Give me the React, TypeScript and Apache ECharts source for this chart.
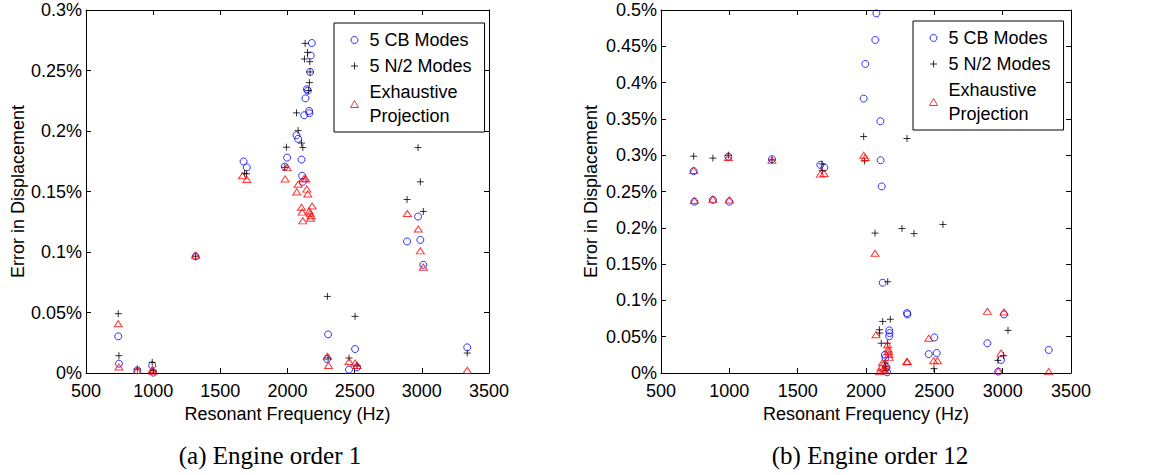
import React, { useEffect, useRef } from "react";
import * as echarts from "echarts";

// ---------- data (frequency Hz, error %) ----------
const seriesNames = ["5 CB Modes", "5 N/2 Modes", "Exhaustive\nProjection"];
const freqTicks = { min: 500, max: 3500, interval: 500 };
const errTicksEO1 = { min: 0, max: 0.3, interval: 0.05 };
const errTicksEO12 = { min: 0, max: 0.5, interval: 0.05 };
const captions = ["(a) Engine order 1", "(b) Engine order 12"];

const eo1Cb: [number, number][] = [
  [740, 0.0303], [745, 0.0077], [882, 0.0022], [993, 0.0063], [1000, 0.0003],
  [1316, 0.0963], [1673, 0.1748], [1697, 0.170], [1980, 0.1706], [1997, 0.178],
  [2067, 0.1965], [2079, 0.1935], [2104, 0.1764], [2109, 0.163], [2114, 0.158],
  [2124, 0.213], [2134, 0.227], [2144, 0.2345], [2151, 0.2334], [2161, 0.2166],
  [2163, 0.2147], [2168, 0.2488], [2173, 0.2623], [2181, 0.2727], [2295, 0.0116],
  [2302, 0.0319], [2458, 0.0028], [2503, 0.0198], [2518, 0.0047], [2890, 0.1087],
  [2972, 0.1293], [2989, 0.110], [3011, 0.0894], [3338, 0.0212],
];
const eo1N2: [number, number][] = [
  [740, 0.049], [745, 0.0143], [882, 0.0033], [993, 0.0088], [1000, 0.0022],
  [1316, 0.0965], [1680, 0.165], [1695, 0.1646], [1980, 0.170], [1992, 0.1866],
  [2067, 0.215], [2079, 0.2003], [2104, 0.190], [2114, 0.1863], [2126, 0.2595],
  [2131, 0.2724], [2149, 0.265], [2156, 0.2334], [2163, 0.240], [2166, 0.2573],
  [2168, 0.2488], [2297, 0.0633], [2302, 0.0124], [2458, 0.0124], [2503, 0.0468],
  [2518, 0.006], [2890, 0.1434], [2972, 0.1863], [2989, 0.158], [3011, 0.1335],
  [3338, 0.0165],
];
const eo1Ex: [number, number][] = [
  [740, 0.0407], [745, 0.005], [882, 0.0022], [993, 0.0028], [1000, 0.0014],
  [1316, 0.0974], [1665, 0.163], [1697, 0.160], [1982, 0.1604], [1997, 0.1698],
  [2069, 0.1497], [2079, 0.156], [2104, 0.137], [2109, 0.133], [2114, 0.1258],
  [2124, 0.1607], [2136, 0.1604], [2144, 0.152], [2151, 0.148], [2161, 0.134],
  [2168, 0.132], [2176, 0.130], [2171, 0.128], [2183, 0.138], [2297, 0.0138],
  [2305, 0.0063], [2458, 0.0096], [2503, 0.0083], [2518, 0.0063], [2892, 0.1318],
  [2974, 0.119], [2989, 0.101], [3011, 0.0875], [3338, 0.0022],
];

const eo12Cb: [number, number][] = [
  [739, 0.278], [744, 0.236], [880, 0.2385], [993, 0.298], [1000, 0.236],
  [1312, 0.2945], [1666, 0.2867], [1695, 0.283], [1983, 0.378], [1995, 0.4257],
  [2068, 0.4587], [2076, 0.4954], [2105, 0.3468], [2107, 0.293], [2115, 0.257],
  [2122, 0.1243], [2170, 0.0587], [2172, 0.055], [2170, 0.0505], [2138, 0.025],
  [2142, 0.021], [2150, 0.008], [2155, 0.001], [2300, 0.0826], [2303, 0.0807],
  [2459, 0.026], [2500, 0.049], [2517, 0.0275], [2888, 0.041], [2968, 0.002],
  [2988, 0.018], [3010, 0.0807], [3337, 0.0317],
];
const eo12N2: [number, number][] = [
  [739, 0.2986], [880, 0.296], [993, 0.300], [1312, 0.2935], [1678, 0.288],
  [1680, 0.279], [1983, 0.3257], [1990, 0.292], [2300, 0.323], [2066, 0.1927],
  [2263, 0.199], [2351, 0.192], [2563, 0.2046], [2159, 0.1257], [2122, 0.071],
  [2178, 0.074], [2098, 0.0596], [2100, 0.055], [2112, 0.041], [2156, 0.041],
  [2140, 0.014], [2142, 0.009], [2147, 0.004], [2497, 0.006], [2966, 0.0174],
  [3007, 0.024], [3039, 0.0587],
];
const eo12Ex: [number, number][] = [
  [739, 0.279], [744, 0.2376], [880, 0.2395], [993, 0.2968], [1000, 0.2385],
  [1312, 0.293], [1666, 0.274], [1693, 0.275], [1983, 0.300], [1995, 0.2968],
  [2066, 0.165], [2073, 0.0528], [2158, 0.039], [2162, 0.033], [2165, 0.030],
  [2170, 0.0216], [2168, 0.026], [2120, 0.014], [2112, 0.008], [2100, 0.002],
  [2130, 0.0055], [2140, 0.003], [2145, 0.011], [2298, 0.016], [2303, 0.0155],
  [2459, 0.048], [2495, 0.017], [2522, 0.017], [2888, 0.085], [3010, 0.084],
  [2988, 0.0275], [2968, 0.003], [3337, 0.002],
];

// ---------- styling ----------
const FONT = "'Liberation Sans', Arial, Helvetica, sans-serif";
const SERIF = "'Liberation Serif', 'Times New Roman', serif";
const PLUS = "path://M0,5L10,5M5,0L5,10";
const TRI = "path://M4,0L8,7L0,7Z";

function pctLabel(v: number) {
  return `${+v.toFixed(2)}%`;
}

function xAxes(gridIndex: number) {
  const common = {
    type: "value" as const,
    gridIndex,
    min: freqTicks.min,
    max: freqTicks.max,
    interval: freqTicks.interval,
    axisLine: { show: true, onZero: false, lineStyle: { color: "#000", width: 1 } },
    axisTick: { show: true, inside: true, length: 5, lineStyle: { color: "#000" } },
    splitLine: { show: false },
  };
  return [
    {
      ...common,
      position: "bottom",
      axisLabel: {
        color: "#000",
        fontSize: 18,
        fontFamily: FONT,
        margin: 9,
        formatter: (v: number) => String(v),
      },
      name: "Resonant Frequency (Hz)",
      nameLocation: "middle",
      nameGap: 28,
      nameTextStyle: { color: "#000", fontSize: 18, fontFamily: FONT },
    },
    { ...common, position: "top", axisLabel: { show: false } },
  ];
}

function yAxes(gridIndex: number, t: { min: number; max: number; interval: number }, gap: number) {
  const common = {
    type: "value" as const,
    gridIndex,
    min: t.min,
    max: t.max,
    interval: t.interval,
    axisLine: { show: true, onZero: false, lineStyle: { color: "#000", width: 1 } },
    axisTick: { show: true, inside: true, length: 5, lineStyle: { color: "#000" } },
    splitLine: { show: false },
  };
  return [
    {
      ...common,
      position: "left",
      axisLabel: { color: "#000", fontSize: 18, fontFamily: FONT, margin: 4, formatter: pctLabel },
      name: "Error in Displacement",
      nameLocation: "middle",
      nameGap: gap,
      nameTextStyle: { color: "#000", fontSize: 18, fontFamily: FONT },
    },
    { ...common, position: "right", axisLabel: { show: false } },
  ];
}

function scatterSet(xi: number, yi: number, cb: any[], n2: any[], ex: any[]) {
  return [
    {
      type: "scatter",
      name: seriesNames[0],
      xAxisIndex: xi,
      yAxisIndex: yi,
      data: cb,
      symbol: "circle",
      symbolSize: 7,
      symbolKeepAspect: true,
      itemStyle: { color: "transparent", borderColor: "#0000ff", borderWidth: 1 },
    },
    {
      type: "scatter",
      name: seriesNames[1],
      xAxisIndex: xi,
      yAxisIndex: yi,
      data: n2,
      symbol: PLUS,
      symbolSize: 7,
      symbolKeepAspect: true,
      itemStyle: { color: "transparent", borderColor: "#000", borderWidth: 1 },
    },
    {
      type: "scatter",
      name: seriesNames[2],
      xAxisIndex: xi,
      yAxisIndex: yi,
      data: ex,
      symbol: TRI,
      symbolSize: [8, 7],
      symbolKeepAspect: true,
      itemStyle: { color: "transparent", borderColor: "#ff0000", borderWidth: 1 },
    },
  ];
}

function legendAt(left: number, top: number) {
  return {
    orient: "vertical",
    left,
    top,
    padding: [5, 13, 4, 16],
    itemGap: 2,
    itemWidth: 20,
    itemHeight: 7,
    symbolKeepAspect: true,
    borderColor: "#000",
    borderWidth: 1,
    borderRadius: 0,
    backgroundColor: "#fff",
    selectedMode: false,
    itemStyle: { borderWidth: 1 },
    textStyle: { color: "#000", fontSize: 18, lineHeight: 24, fontFamily: FONT },
    data: seriesNames,
  };
}

export default function App() {
  const ref = useRef<HTMLDivElement>(null);
  useEffect(() => {
    if (!ref.current) return;
    const chart = echarts.init(ref.current, null, { renderer: "svg" });
    chart.setOption({
      animation: false,
      backgroundColor: "#fff",
      grid: [
        { left: 86, top: 10, width: 403, height: 363 },
        { left: 661, top: 10, width: 410, height: 363 },
      ],
      xAxis: [...xAxes(0), ...xAxes(1)],
      yAxis: [...yAxes(0, errTicksEO1, 56), ...yAxes(1, errTicksEO12, 61)],
      legend: [legendAt(334, 23), legendAt(913, 21)],
      series: [
        ...scatterSet(0, 0, eo1Cb, eo1N2, eo1Ex),
        ...scatterSet(2, 2, eo12Cb, eo12N2, eo12Ex),
      ],
      graphic: [
        {
          type: "text",
          x: 270,
          y: 455,
          style: { text: captions[0], fontSize: 25, fontFamily: SERIF, fill: "#000", align: "center", verticalAlign: "middle" },
        },
        {
          type: "text",
          x: 870,
          y: 455,
          style: { text: captions[1], fontSize: 25, fontFamily: SERIF, fill: "#000", align: "center", verticalAlign: "middle" },
        },
      ],
    });
    return () => chart.dispose();
  }, []);
  return (
    <div
      ref={ref}
      style={{ position: "absolute", left: 0, top: 0, width: 1151, height: 475, background: "#fff" }}
    />
  );
}
